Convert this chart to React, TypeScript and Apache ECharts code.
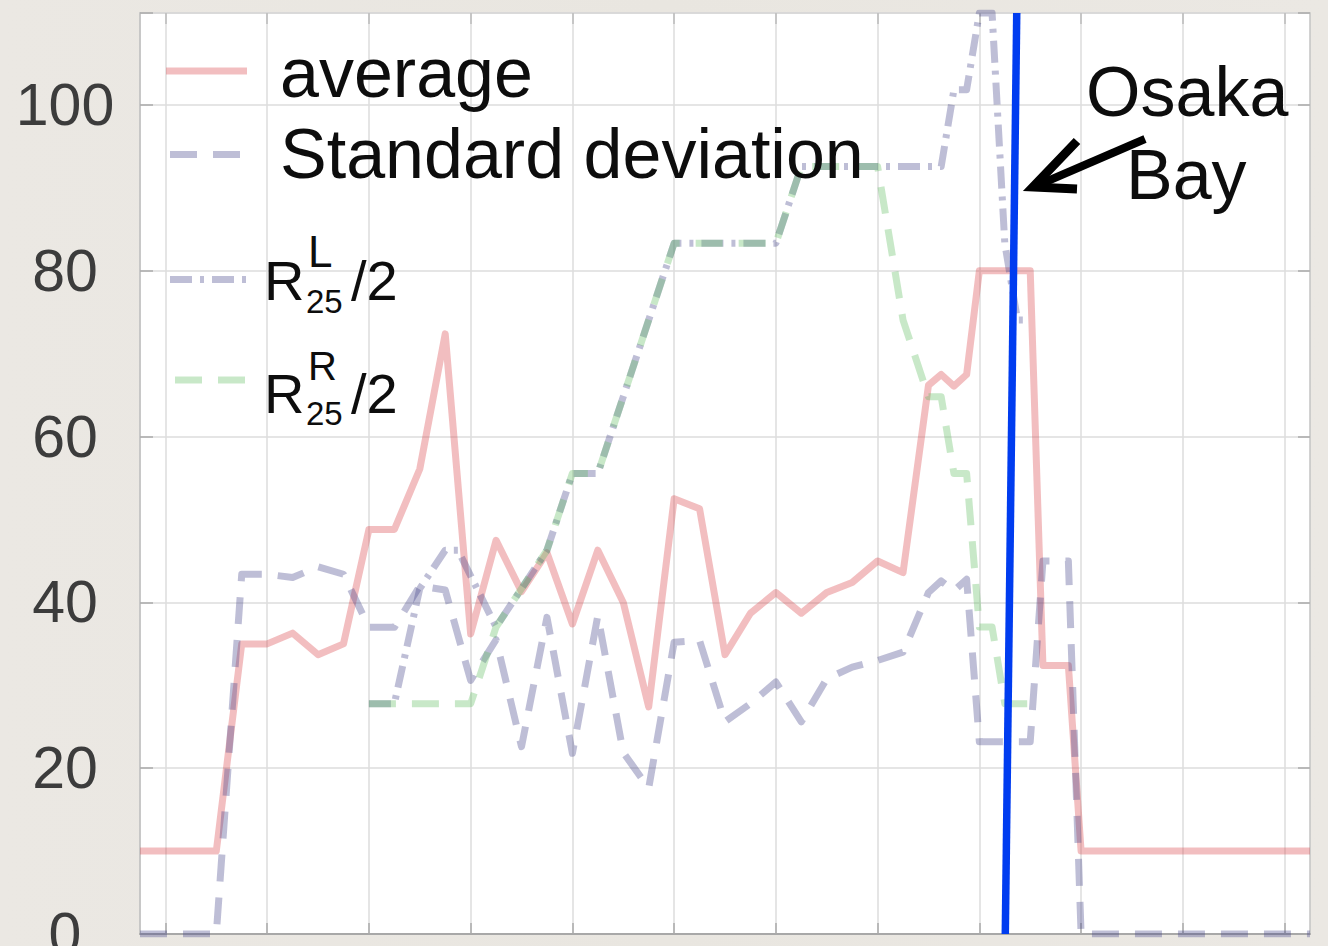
import React, { useEffect, useRef } from "react";
import * as echarts from "echarts";

// ---- data (x in quarter-gridline steps, 0..46) ----
const avgX = [0, 3, 4, 5, 6, 7, 8, 9, 10, 11, 12, 13, 14, 15, 16, 17, 18, 19, 20, 21, 22, 23, 24, 25, 26, 27, 28, 29, 30, 31, 31.5, 32, 32.5, 33, 35, 35.5, 36.5, 37, 46];
const avgY = [10, 10, 35, 35, 36.3, 33.7, 35, 48.8, 48.8, 56.1, 72.4, 36.2, 47.5, 41.3, 46, 37.4, 46.3, 40, 27.4, 52.5, 51.3, 33.7, 38.7, 41.2, 38.7, 41.2, 42.4, 45, 43.6, 66.2, 67.5, 66.1, 67.5, 80, 80, 32.4, 32.4, 10, 10];

const stdX = [0, 3, 4, 5, 6, 7, 8, 9, 10, 11, 12, 13, 14, 15, 16, 17, 18, 19, 20, 21, 22, 23, 24, 25, 26, 27, 28, 29, 30, 31, 31.5, 32, 32.5, 33, 35, 35.5, 36.5, 37, 46];
const stdY = [0, 0, 43.4, 43.4, 43.0, 44.3, 43.4, 37, 37, 42, 41.5, 30.6, 35.5, 22.6, 38.2, 21.8, 38.4, 21.9, 17.6, 35.2, 35.4, 25.6, 27.8, 30.4, 25.6, 30.8, 32.2, 33.0, 34.0, 41.2, 42.6, 41.4, 42.8, 23.2, 23.2, 45, 45, 0, 0];

const rlX = [9, 10, 11, 12, 12.5, 14, 15, 16, 17, 18, 21, 25, 26, 31.5, 32, 32.5, 33, 33.5, 34, 34.5, 35];
const rlY = [27.78, 27.78, 41.67, 46.3, 46.3, 37.04, 41.67, 46.3, 55.56, 55.56, 83.33, 83.33, 92.59, 92.59, 101.85, 101.85, 111.11, 111.11, 83.33, 74.07, 74.07];

const rrX = [9, 13, 14, 15, 16, 17, 18, 21, 25, 26, 29, 30, 31, 31.5, 32, 32.5, 33, 33.5, 34, 35];
const rrY = [27.78, 27.78, 37.04, 41.67, 46.3, 55.56, 55.56, 83.33, 83.33, 92.59, 92.59, 74.07, 64.81, 64.81, 55.56, 55.56, 37.04, 37.04, 27.78, 27.78];

const osakaX = [34.02, 34.47];
const osakaY = [0, 111.11];

const yMin = 0;
const yMax = 111.11;
const yStep = 20;
const xMin = 0;
const xMax = 46;

const legendNames = ["average", "Standard deviation"];
const annotation = ["Osaka", "Bay"];

const PINK = "rgba(218,69,75,0.35)";
const LAV = "rgba(69,69,138,0.35)";
const GREEN = "rgba(98,189,98,0.35)";
const BLUE = "#003cf0";
const FONT = '"Liberation Sans", Arial, Helvetica, sans-serif';
const LW = 7;

const zip = (xs: number[], ys: number[]) => xs.map((x, i) => [x, ys[i]]);

export default function App() {
  const ref = useRef<HTMLDivElement>(null);
  useEffect(() => {
    if (!ref.current) return;
    const chart = echarts.init(ref.current, undefined, { renderer: "svg" });
    const gridCats = Array.from({ length: xMax - xMin + 1 }, (_, i) => String(i));
    const onGrid = (i: number) => i % 4 === 1;
    const txt = (text: string, x: number, y: number, size: number) => ({
      type: "text",
      x,
      y,
      silent: true,
      z: 50,
      style: {
        text,
        fill: "#0d0d0d",
        fontSize: size,
        fontFamily: FONT,
        align: "left",
        verticalAlign: "middle",
        textAlign: "left",
        textVerticalAlign: "middle",
      },
    });
    const seg = (x1: number, y1: number, x2: number, y2: number, color: string, dash?: number[]) => ({
      type: "line",
      silent: true,
      z: 50,
      shape: { x1, y1, x2, y2 },
      style: { stroke: color, lineWidth: 7, lineDash: dash, lineCap: "butt" },
    });
    const option: any = {
      animation: false,
      backgroundColor: "transparent",
      grid: {
        left: 140,
        top: 13,
        width: 1170,
        height: 921,
        show: true,
        backgroundColor: "#ffffff",
        borderColor: "#c4c4c4",
        borderWidth: 1.5,
        containLabel: false,
        outerBoundsMode: "none",
      },
      xAxis: [
        { type: "value", min: xMin, max: xMax, show: false },
        {
          type: "category",
          position: "bottom",
          data: gridCats,
          boundaryGap: false,
          axisLine: { show: true, lineStyle: { color: "#a8a8a8", width: 2 } },
          axisTick: { show: true, inside: true, length: 11, interval: onGrid, lineStyle: { color: "#aaaaaa", width: 1.5 } },
          axisLabel: { show: false },
          splitLine: { show: true, interval: onGrid, lineStyle: { color: "#dddddd", width: 1.5 } },
        },
        {
          type: "category",
          position: "top",
          data: gridCats,
          boundaryGap: false,
          axisLine: { show: false },
          axisTick: { show: true, inside: true, length: 11, interval: onGrid, lineStyle: { color: "#bbbbbb", width: 1.5 } },
          axisLabel: { show: false },
          splitLine: { show: false },
        },
      ],
      yAxis: [
        {
          type: "value",
          min: yMin,
          max: yMax,
          interval: yStep,
          position: "left",
          axisLine: { show: true, lineStyle: { color: "#c4c4c4", width: 1.5 } },
          axisTick: { show: true, inside: true, length: 13, lineStyle: { color: "#aaaaaa", width: 1.5 } },
          axisLabel: {
            show: true,
            formatter: (v: number) => (Math.abs(v % yStep) < 1e-6 ? String(v) : ""),
            fontSize: 59,
            color: "#3c3c3c",
            fontFamily: FONT,
            align: "center",
            margin: 75,
          },
          splitLine: { show: true, lineStyle: { color: "#dddddd", width: 1.5 } },
        },
        {
          type: "value",
          min: yMin,
          max: yMax,
          interval: yStep,
          position: "right",
          axisLine: { show: false },
          axisTick: { show: true, inside: true, length: 12, lineStyle: { color: "#aaaaaa", width: 1.5 } },
          axisLabel: { show: false },
          splitLine: { show: false },
        },
      ],
      series: [
        {
          name: legendNames[0],
          type: "line",
          xAxisIndex: 0,
          yAxisIndex: 0,
          data: zip(avgX, avgY),
          symbol: "none",
          silent: true,
          z: 2,
          lineStyle: { color: PINK, width: LW, join: "round" },
        },
        {
          name: legendNames[1],
          type: "line",
          xAxisIndex: 0,
          yAxisIndex: 0,
          data: zip(stdX, stdY),
          symbol: "none",
          silent: true,
          z: 3,
          lineStyle: { color: LAV, width: LW, type: [27, 16], cap: "butt", join: "round" },
        },
        {
          name: "RL25/2",
          type: "line",
          xAxisIndex: 0,
          yAxisIndex: 0,
          data: zip(rlX, rlY),
          symbol: "none",
          silent: true,
          z: 4,
          lineStyle: { color: LAV, width: LW, type: [22, 8, 4, 8], cap: "butt", join: "round" },
        },
        {
          name: "RR25/2",
          type: "line",
          xAxisIndex: 0,
          yAxisIndex: 0,
          data: zip(rrX, rrY),
          symbol: "none",
          silent: true,
          z: 5,
          lineStyle: { color: GREEN, width: LW, type: [27, 16], cap: "butt", join: "round" },
        },
        {
          name: "Osaka Bay",
          type: "line",
          xAxisIndex: 0,
          yAxisIndex: 0,
          data: zip(osakaX, osakaY),
          symbol: "none",
          silent: true,
          z: 10,
          lineStyle: { color: BLUE, width: 7.5 },
        },
      ],
      graphic: [
        // legend
        seg(166, 71, 247, 71, PINK),
        txt(legendNames[0], 280, 72.5, 70),
        seg(170, 154.5, 241, 154.5, LAV, [27, 16]),
        txt(legendNames[1], 280, 153.5, 70),
        seg(170, 279.5, 248, 279.5, LAV, [22, 8, 4, 8]),
        txt("R", 264, 280.6, 56),
        txt("L", 308, 251.8, 44),
        txt("25", 306, 301.9, 33),
        txt("/2", 351, 280.6, 56),
        seg(175, 380, 246, 380, GREEN, [27, 16]),
        txt("R", 264, 393.6, 56),
        txt("R", 308, 366.1, 40),
        txt("25", 306, 413.9, 33),
        txt("/2", 351, 393.6, 56),
        // annotation
        txt(annotation[0], 1086, 92.4, 70),
        txt(annotation[1], 1126, 175, 70),
        {
          type: "line",
          silent: true,
          z: 60,
          shape: { x1: 1145, y1: 139, x2: 1036, y2: 186 },
          style: { stroke: "#000", lineWidth: 8 },
        },
        {
          type: "polyline",
          silent: true,
          z: 60,
          shape: { points: [[1077, 141], [1033, 187], [1077, 189]] },
          style: { stroke: "#000", lineWidth: 9, fill: null, lineJoin: "miter" },
        },
      ],
    };
    chart.setOption(option);
    return () => chart.dispose();
  }, []);
  return (
    <div
      style={{
        position: "fixed",
        left: 0,
        top: 0,
        width: 1328,
        height: 946,
        background: "linear-gradient(90deg, #ebe8e3 0%, #e9e6e0 50%, #ebe8e3 100%)",
      }}
    >
      <div ref={ref} style={{ width: 1328, height: 946 }} />
    </div>
  );
}
